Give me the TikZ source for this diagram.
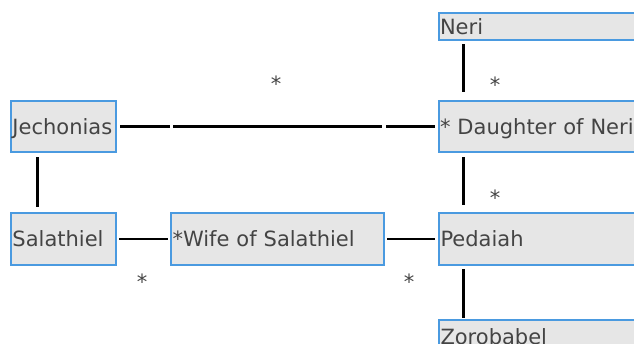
\documentclass[tikz,border=0pt]{standalone}
\usepackage{fontspec}
\setmainfont{DejaVu Sans}
\definecolor{boxfill}{HTML}{E6E6E6}
\definecolor{boxedge}{HTML}{4A9AE0}
\definecolor{txt}{HTML}{444444}
\begin{document}
\begin{tikzpicture}[x=1pt,y=-1pt,
  person/.style={draw=boxedge, fill=boxfill, line width=2pt, rectangle,
    anchor=north west, inner xsep=1.5pt, inner ysep=0pt, align=left,
    text=txt, font=\fontsize{21pt}{25pt}\selectfont,
    text height=15pt, text depth=0pt},
  star/.style={text=txt, font=\fontsize{21pt}{25pt}\selectfont, anchor=base, inner sep=0pt},
  link/.style={line width=3pt, black},
  thinlink/.style={line width=2.2pt, black}]
\useasboundingbox (0,0) rectangle (634,343);
\clip (0,0) rectangle (634,343);
% boxes: text width = W - 3
\node[person, text width=259.5pt, minimum height=27pt] (neri) at (437.5,12) {Neri};
\node[person, text width=102pt, minimum height=51pt] (jech) at (10,100) {Jechonias};
\node[person, text width=259.5pt, minimum height=51pt] (daug) at (437.5,100) {* Daughter of Neri};
\node[person, text width=102pt, minimum height=52pt] (sala) at (10,212) {Salathiel};
\node[person, text width=209.5pt, minimum height=52pt] (wife) at (170,212) {*Wife of Salathiel};
\node[person, text width=259pt, minimum height=52pt] (peda) at (438,212) {Pedaiah};
\node[person, text width=259pt, minimum height=33pt] (zoro) at (438,319) {Zorobabel};
% connectors
\draw[link, dash pattern=on 50pt off 3pt on 209pt off 4pt on 60pt]
  ([xshift=3pt]jech.east) -- ([xshift=-3pt]daug.west);
\draw[link] ([xshift=27pt,yshift=-4pt]jech.south west) -- ([xshift=27pt,yshift=5pt]sala.north west);
\draw[thinlink] ([xshift=2pt]sala.east) -- ([xshift=-2pt]wife.west);
\draw[thinlink] ([xshift=2.5pt]wife.east) -- ([xshift=-3pt]peda.west);
\draw[link] ([xshift=25.5pt,yshift=-3pt]neri.south west) -- ([xshift=25.5pt,yshift=8pt]daug.north west);
\draw[link] ([xshift=25.5pt,yshift=-4pt]daug.south west) -- ([xshift=25pt,yshift=7pt]peda.north west);
\draw[link] ([xshift=25pt,yshift=-3pt]peda.south west) -- ([xshift=25pt,yshift=1pt]zoro.north west);
% star labels
\node[star] (s1) at (276,91) {*};
\node[star] (s2) at (495,92) {*};
\node[star] (s3) at (495,205) {*};
\node[star] (s4) at (142,289) {*};
\node[star] (s5) at (409,289) {*};
\end{tikzpicture}
\end{document}
